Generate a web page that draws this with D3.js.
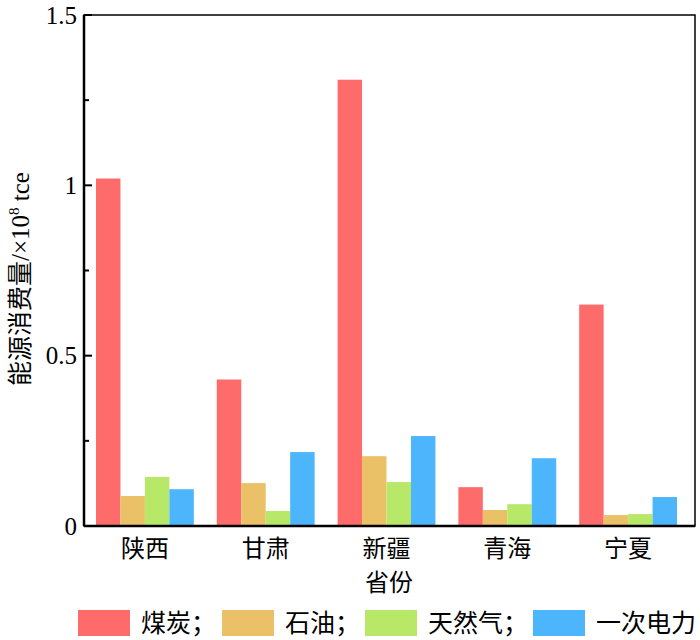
<!DOCTYPE html>
<html>
<head>
<meta charset="utf-8">
<script src="https://cdn.jsdelivr.net/npm/d3@7"></script>
<style>
  body { margin: 0; background: #fff; }
  svg { display: block; }
</style>
</head>
<body>
<script>
// Data
var provinces = ["陕西", "甘肃", "新疆", "青海", "宁夏"];
var seriesNames = ["煤炭", "石油", "天然气", "一次电力"];
var coal = [1.02, 0.43, 1.31, 0.114, 0.65];
var oil = [0.088, 0.126, 0.205, 0.047, 0.032];
var gas = [0.144, 0.044, 0.129, 0.064, 0.035];
var power = [0.108, 0.217, 0.264, 0.199, 0.085];
var yTicks = [0, 0.5, 1, 1.5];
var yMinorTicks = [0.25, 0.75, 1.25];
var colors = ["#fd6b6b", "#ebc168", "#b7e868", "#4db5fc"];

var width = 700, height = 640;
var margin = {left: 84, right: 5, top: 15, bottom: 114};

var svg = d3.select("body").append("svg")
    .attr("width", width).attr("height", height);

var x0 = d3.scaleBand().domain(provinces)
    .range([margin.left, width - margin.right])
    .paddingInner(0.19).paddingOuter(0.124).align(0.4);
var x1 = d3.scaleBand().domain(seriesNames).range([0, x0.bandwidth()]);
var y = d3.scaleLinear().domain([0, 1.5]).range([height - margin.bottom, margin.top]);
var color = d3.scaleOrdinal().domain(seriesNames).range(colors);

var values = [coal, oil, gas, power];
var rows = [];
provinces.forEach(function(p, i) {
    seriesNames.forEach(function(s, j) {
        rows.push({province: p, series: s, value: values[j][i]});
    });
});

// bars
svg.append("g").selectAll("rect").data(rows).enter().append("rect")
    .attr("x", function(d) { return x0(d.province) + x1(d.series); })
    .attr("y", function(d) { return y(d.value); })
    .attr("width", x1.bandwidth())
    .attr("height", function(d) { return y(0) - y(d.value); })
    .attr("fill", function(d) { return color(d.series); });

// frame
svg.append("rect")
    .attr("x", margin.left).attr("y", margin.top)
    .attr("width", width - margin.right - margin.left)
    .attr("height", y(0) - margin.top)
    .attr("fill", "none").attr("stroke", "#000").attr("stroke-width", 1.5);
svg.append("line")
    .attr("x1", margin.left).attr("x2", width - margin.right)
    .attr("y1", y(0)).attr("y2", y(0))
    .attr("stroke", "#000").attr("stroke-width", 2.5);
svg.append("line")
    .attr("x1", margin.left).attr("x2", margin.left)
    .attr("y1", margin.top).attr("y2", y(0))
    .attr("stroke", "#000").attr("stroke-width", 2.5);

// y axis ticks (inward)
var yAxis = svg.append("g");
yAxis.selectAll("line.major").data(yTicks).enter().append("line")
    .attr("x1", margin.left).attr("x2", margin.left + 8)
    .attr("y1", function(d) { return y(d); }).attr("y2", function(d) { return y(d); })
    .attr("stroke", "#000").attr("stroke-width", 2);
yAxis.selectAll("line.minor").data(yMinorTicks).enter().append("line")
    .attr("x1", margin.left).attr("x2", margin.left + 5)
    .attr("y1", function(d) { return y(d); }).attr("y2", function(d) { return y(d); })
    .attr("stroke", "#000").attr("stroke-width", 2);
yAxis.selectAll("text").data(yTicks).enter().append("text")
    .attr("x", margin.left - 7)
    .attr("y", function(d) { return y(d); })
    .attr("dy", "0.35em")
    .attr("text-anchor", "end")
    .attr("font-family", "'Liberation Serif', serif")
    .attr("font-size", 25)
    .text(function(d) { return d3.format("~g")(d); });

// x labels
svg.append("g").selectAll("text").data(provinces).enter().append("text")
    .attr("x", function(d) { return x0(d) + x0.bandwidth() / 2; })
    .attr("y", y(0) + 31)
    .attr("text-anchor", "middle")
    .attr("font-family", "'Noto Sans CJK SC', sans-serif")
    .attr("font-size", 24)
    .text(function(d) { return d; });

svg.append("text")
    .attr("x", 389)
    .attr("y", y(0) + 65)
    .attr("text-anchor", "middle")
    .attr("font-family", "'Noto Sans CJK SC', sans-serif")
    .attr("font-size", 24)
    .text("省份");

// y label
var yl = svg.append("text")
    .attr("transform", "translate(29," + 279 + ") rotate(-90)")
    .attr("text-anchor", "middle")
    .attr("font-size", 25);
yl.append("tspan").attr("font-family", "'Noto Sans CJK SC', sans-serif").text("能源消费量");
yl.append("tspan").attr("font-family", "'Liberation Serif', serif").text("/×10");
yl.append("tspan").attr("font-family", "'Liberation Serif', serif")
    .attr("font-size", 15).attr("dy", -10).text("8");
yl.append("tspan").attr("font-family", "'Liberation Serif', serif")
    .attr("dy", 10).text(" tce");

// legend
var legendX = [78, 222, 365, 533];
var legendLabels = ["煤炭；", "石油；", "天然气；", "一次电力"];
var legend = svg.append("g").selectAll("g").data(seriesNames).enter().append("g")
    .attr("transform", function(d, i) { return "translate(" + legendX[i] + ",610)"; });
legend.append("rect")
    .attr("width", 52).attr("height", 26)
    .attr("fill", function(d) { return color(d); });
legend.append("text")
    .attr("x", 63).attr("y", 13).attr("dy", "0.36em")
    .attr("font-family", "'Noto Sans CJK SC', sans-serif")
    .attr("font-size", 25)
    .text(function(d, i) { return legendLabels[i]; });
</script>
</body>
</html>
